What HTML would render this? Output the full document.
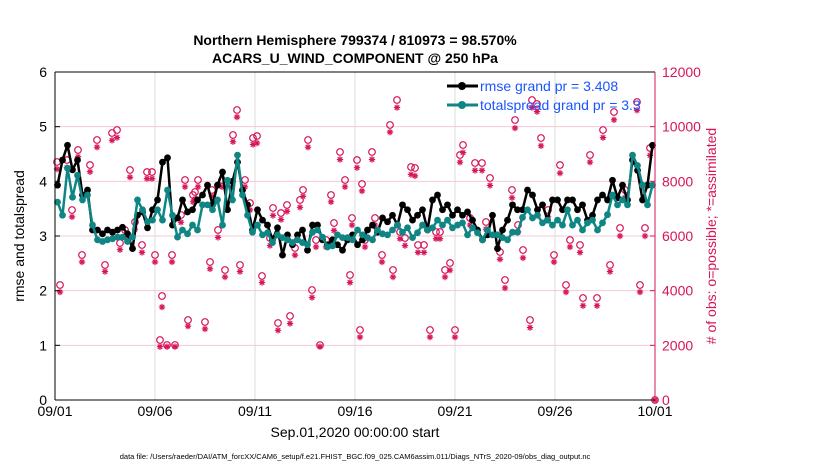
<!DOCTYPE html>
<html><head><meta charset="utf-8"><style>
body{margin:0;background:#fff;}
svg text{font-family:"Liberation Sans",sans-serif;}
</style></head><body>
<svg id="chart" width="830" height="470" xmlns="http://www.w3.org/2000/svg">
<text x="355" y="45" text-anchor="middle" font-size="14" font-weight="bold">Northern Hemisphere 799374 / 810973 = 98.570%</text>
<text x="355" y="63" text-anchor="middle" font-size="14" font-weight="bold">ACARS_U_WIND_COMPONENT @ 250 hPa</text>
<g id="grid"></g><g id="obs"></g><g id="lines"></g><g id="axes"></g>
<text x="24" y="236" transform="rotate(-90 24 236)" text-anchor="middle" font-size="14">rmse and totalspread</text>
<text x="716" y="236" transform="rotate(-90 716 236)" text-anchor="middle" font-size="14" fill="#d6155a"># of obs: o=possible; *=assimilated</text>
<text x="355" y="437" text-anchor="middle" font-size="14">Sep.01,2020 00:00:00 start</text>
<text x="355" y="459" text-anchor="middle" font-size="7.5">data file: /Users/raeder/DAI/ATM_forcXX/CAM6_setup/f.e21.FHIST_BGC.f09_025.CAM6assim.011/Diags_NTrS_2020-09/obs_diag_output.nc</text>
<g>
<line x1="447" y1="86" x2="478" y2="86" stroke="#000" stroke-width="3"/><circle cx="462" cy="86" r="4" fill="#000"/>
<text x="480" y="91" font-size="14" fill="#1a55ff">rmse grand pr = 3.408</text>
<line x1="447" y1="105" x2="478" y2="105" stroke="#0f8584" stroke-width="3"/><circle cx="462" cy="105" r="4" fill="#0f8584"/>
<text x="480" y="110" font-size="14" fill="#1a55ff">totalspread grand pr = 3.3</text>
</g>
</svg>
<script>
const xTickLabels=["09/01","09/06","09/11","09/16","09/21","09/26","10/01"];
const xTickDays=[0,5,10,15,20,25,30];
const yTicks=[0,1,2,3,4,5,6];
const y2Ticks=[0,2000,4000,6000,8000,10000,12000];
const rmse=[3.93,4.39,4.66,4.21,4.39,3.75,3.84,3.11,3.11,3.04,3.11,3.07,3.11,3.16,3.04,2.77,3.38,3.44,3.15,3.48,3.66,4.35,4.43,3.20,3.33,3.66,3.44,3.48,3.66,3.75,3.93,3.57,3.93,4.17,3.48,4.00,4.35,3.84,3.57,3.11,3.48,3.29,3.20,2.93,3.15,2.65,3.02,2.84,3.02,3.11,2.74,3.20,3.20,2.93,2.84,2.93,2.84,2.74,2.93,3.02,2.84,2.93,3.11,3.20,3.07,3.33,3.26,3.38,3.20,3.57,3.48,3.29,3.38,3.48,3.11,3.66,3.75,3.48,3.57,3.38,3.48,3.38,3.44,3.29,3.11,2.93,3.02,3.38,2.77,3.11,3.29,3.57,3.48,3.48,3.84,3.75,3.48,3.57,3.29,3.66,3.66,3.48,3.66,3.66,3.48,3.57,3.29,3.38,3.66,3.75,3.66,4.02,3.70,3.93,3.66,4.39,4.20,3.66,3.93,4.66];
const spread=[3.62,3.38,4.24,3.71,4.11,3.66,3.75,3.20,2.93,2.90,2.93,2.95,2.98,2.98,2.90,2.98,3.66,3.48,3.26,3.29,3.48,3.29,3.84,3.38,2.98,3.11,3.04,3.20,3.11,3.57,3.57,3.48,3.66,3.20,4.02,3.66,4.48,3.75,3.38,3.07,3.20,3.02,3.06,2.88,3.02,2.97,2.93,2.88,2.93,2.88,2.84,3.07,3.11,2.98,2.80,2.82,3.02,2.97,2.97,2.93,3.11,3.02,2.97,2.93,3.11,3.04,3.02,3.11,3.20,3.07,3.15,2.97,3.06,3.20,3.11,3.15,3.29,3.20,3.29,3.15,3.20,3.24,3.02,3.15,3.06,2.93,3.11,3.02,3.02,2.97,2.93,3.07,3.07,3.34,3.48,3.33,3.38,3.24,3.29,3.20,3.29,3.20,3.48,3.20,3.29,3.11,3.24,3.29,3.11,3.24,3.39,3.75,3.57,3.66,3.57,4.48,4.29,3.93,3.57,3.93];
const obsDay=[0.1,0.25,0.6,0.85,1.15,1.35,1.75,2.1,2.5,2.85,3.1,3.25,3.5,3.75,4.0,4.35,4.6,4.85,5.0,5.25,5.35,5.6,5.85,6.0,6.3,6.5,6.65,6.9,7.0,7.15,7.5,7.75,7.85,8.15,8.35,8.5,8.9,9.1,9.25,9.5,9.75,9.9,10.1,10.35,10.75,10.9,11.15,11.3,11.6,11.75,12.0,12.25,12.4,12.65,12.85,13.05,13.25,13.55,13.8,13.95,14.25,14.5,14.75,14.85,15.1,15.25,15.35,15.5,15.85,16.0,16.35,16.75,16.9,17.1,17.25,17.5,17.8,18.0,18.15,18.45,18.75,19.05,19.25,19.5,19.75,20.0,20.25,20.4,20.75,21.0,21.35,21.55,21.75,22.25,22.5,22.85,23.0,23.15,23.4,23.75,23.85,24.1,24.3,24.65,24.95,25.25,25.55,25.75,26.25,26.4,26.75,27.1,27.4,27.75,27.95,28.25,28.5,29.1,29.25,29.5,29.75,30.0];
const obsPossible=[8707,4207,8780,6951,9146,5305,8597,9512,4939,9768,9878,5744,6220,8415,6512,5671,8341,8341,5305,2195,3805,2012,5305,2012,6768,8049,2927,7500,7610,8049,2854,5049,7683,6220,8049,4756,9695,10610,4939,8049,7207,9585,9658,4537,5927,7024,2817,6841,7134,3073,5561,7317,7683,9512,4024,5854,2012,5854,7500,6476,9073,8049,4573,6659,8780,2561,7902,5854,9073,6659,5305,10061,4756,10976,6146,5927,8524,8488,5671,5671,2561,6146,6146,4756,5012,2561,8963,9329,6659,8671,8671,6512,8122,5415,4390,7683,10244,6402,5488,2927,10976,10829,9585,6951,5305,8597,4207,5854,5671,3732,8963,3732,9878,4939,10537,6293,7683,10902,4207,6293,9220,0];
const obsAssim=[8450,3950,8500,6700,8900,5050,8350,9250,4700,9500,9600,5500,5950,8150,6250,5400,8100,8100,5050,1950,3400,1950,5050,1950,6500,7800,2700,7250,7350,7800,2600,4800,7450,5950,7800,4500,9450,10350,4700,7800,6950,9350,9400,4300,5650,6750,2550,6600,6900,2800,5300,7050,7450,9250,3750,5600,1950,5600,7250,6200,8800,7800,4300,6400,8500,2300,7650,5600,8800,6400,5050,9800,4500,10700,5900,5650,8250,8200,5400,5400,2300,5900,5900,4500,4750,2300,8700,9050,6400,8400,8400,6250,7850,5150,4100,7400,9950,6150,5200,2650,10700,10550,9300,6700,5050,8300,3950,5600,5400,3450,8700,3450,9600,4700,10250,6000,7400,10600,3950,6000,8950,0];

const X0=55,X1=655,Y0=400,Y1=72;
const xs=d=>X0+(X1-X0)*d/30;
const ys=v=>Y0-(Y0-Y1)*v/6;
const ys2=v=>Y0-(Y0-Y1)*v/12000;
const NS="http://www.w3.org/2000/svg";
function mk(parent,tag,attrs){const e=document.createElementNS(NS,tag);for(const k in attrs)e.setAttribute(k,attrs[k]);parent.appendChild(e);return e;}
const grid=document.getElementById('grid'),axes=document.getElementById('axes'),obs=document.getElementById('obs'),lines=document.getElementById('lines');
const RED="#d6155a";
xTickDays.forEach((d,i)=>{
 const g=mk(grid,'line',{x1:xs(d),x2:xs(d),y1:Y1,y2:Y0,stroke:'#ddd','stroke-width':1});
 
 
 const t=mk(axes,'text',{x:xs(d),y:416,'text-anchor':'middle','font-size':14});
 t.textContent=xTickLabels[i];
 
 
});
y2Ticks.forEach(v=>{
 if(v>0&&v<12000){const g=mk(grid,'line',{x1:X0,x2:X1,y1:ys2(v),y2:ys2(v),stroke:'#f6c8d8','stroke-width':1});
 
 }
 mk(axes,'line',{x1:X1,x2:X1-5,y1:ys2(v),y2:ys2(v),stroke:RED});
 const t=mk(axes,'text',{x:X1+7,y:ys2(v)+5,'font-size':14,fill:RED});
 t.textContent=v;
 
 
});
yTicks.forEach(v=>{
 mk(axes,'line',{x1:X0,x2:X0+5,y1:ys(v),y2:ys(v),stroke:'#000'});
 const t=mk(axes,'text',{x:X0-8,y:ys(v)+5,'font-size':14,'text-anchor':'end'});
 t.textContent=v;
 
 
});
mk(axes,'line',{x1:X0,x2:X0,y1:Y1,y2:Y0,stroke:'#000'});
mk(axes,'line',{x1:X0,x2:X1,y1:Y0,y2:Y0,stroke:'#000'});
mk(axes,'line',{x1:X0,x2:X1,y1:Y1,y2:Y1,stroke:'#000'});
mk(axes,'line',{x1:X1,x2:X1,y1:Y1,y2:Y0,stroke:RED});
const n=Math.min(obsDay.length,obsPossible.length,obsAssim.length);
for(let i=0;i<n;i++){
 const c=mk(obs,'circle',{cx:xs(obsDay[i]),cy:ys2(obsPossible[i]),r:3.3,fill:'none',stroke:RED,'stroke-width':1.2});
 
 
 const ax=xs(obsDay[i]),ay=ys2(obsAssim[i]),r=3.2;
 const d=`M${ax-r},${ay}H${ax+r}M${ax},${ay-r}V${ay+r}M${ax-r*0.7},${ay-r*0.7}L${ax+r*0.7},${ay+r*0.7}M${ax-r*0.7},${ay+r*0.7}L${ax+r*0.7},${ay-r*0.7}`;
 const s=mk(obs,'path',{d:d,stroke:RED,'stroke-width':1.2,fill:'none'});
 
 
}
function series(arr,color,name){
 const pts=arr.map((v,i)=>xs((i+0.5)/4)+','+ys(v)).join(' ');
 const p=mk(lines,'polyline',{points:pts,fill:'none',stroke:color,'stroke-width':2.5,'stroke-linejoin':'round'});
 
 
 arr.forEach((v,i)=>{
  const c=mk(lines,'circle',{cx:xs((i+0.5)/4),cy:ys(v),r:3.4,fill:color});
  
  
 });
}
series(rmse,'#000','rmse');
series(spread,'#0f8584','totalspread');
</script>
</body></html>
